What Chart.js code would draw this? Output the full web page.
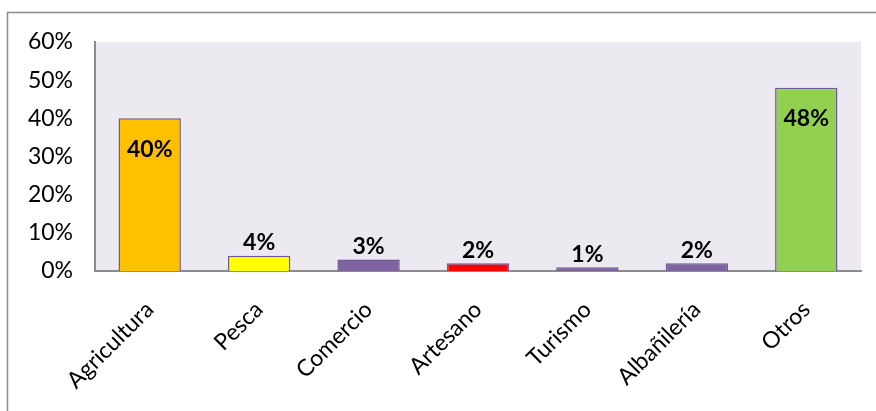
<!DOCTYPE html>
<html>
<head>
<meta charset="utf-8">
<script src="https://cdn.jsdelivr.net/npm/chart.js@4"></script>
<style>
  html, body { margin: 0; padding: 0; background: #fff; }
  #wrap { position: relative; width: 876px; height: 411px; }
</style>
</head>
<body>
<div id="wrap"><canvas id="sectorChart" width="876" height="411"></canvas></div>
<script>
// Categories and values (percent)
const sectors = ['Agricultura', 'Pesca', 'Comercio', 'Artesano', 'Turismo', 'Albañilería', 'Otros'];
const shares = [40, 4, 3, 2, 1, 2, 48];
const barColors = ['#FFC000', '#FFFF00', '#8064A2', '#FF0000', '#8064A2', '#8064A2', '#92D050'];
const yTicks = [0, 10, 20, 30, 40, 50, 60];

/* -----------------------------
   Frame, plot background, labels
------------------------------ */
const decorations = {
  id: 'decorations',
  beforeDraw(chart) {
    const { ctx, chartArea } = chart;
    ctx.save();
    ctx.fillStyle = '#fff';
    ctx.fillRect(0, 0, chart.width, chart.height);
    // outer frame
    ctx.strokeStyle = '#8c8c8c';
    ctx.lineWidth = 1.5;
    ctx.strokeRect(7.5, 12.5, chart.width + 20, chart.height + 20);
    // plot area
    ctx.fillStyle = '#ECEAF0';
    ctx.fillRect(chartArea.left, chartArea.top, chartArea.right - chartArea.left, chartArea.bottom - chartArea.top);
    ctx.restore();
  },
  afterDatasetsDraw(chart) {
    const { ctx } = chart;
    const meta = chart.getDatasetMeta(0);
    ctx.save();
    ctx.font = 'bold 23px Lato, "Open Sans", sans-serif';
    ctx.fillStyle = '#000';
    ctx.textAlign = 'center';
    ctx.textBaseline = 'middle';
    meta.data.forEach((bar, i) => {
      const v = shares[i];
      const y = v > 10 ? bar.y + 31 : bar.y - 13;
      ctx.fillText(v + '%', bar.x, y);
    });
    ctx.restore();
  }
};

const ctx = document.getElementById('sectorChart').getContext('2d');
new Chart(ctx, {
  type: 'bar',
  data: {
    labels: sectors,
    datasets: [{
      data: shares,
      backgroundColor: barColors,
      borderColor: '#6E5A96',
      borderWidth: 1.5,
      barPercentage: 0.57,
      categoryPercentage: 1.0
    }]
  },
  options: {
    responsive: false,
    animation: false,
    layout: { padding: { top: 42, right: 15, left: 0, bottom: 0 } },
    plugins: {
      legend: { display: false },
      tooltip: { enabled: false }
    },
    scales: {
      x: {
        grid: { display: false, drawTicks: false },
        border: { display: true, color: '#8c8c8c', width: 2 },
        ticks: {
          color: '#000',
          font: { family: 'Lato, "Open Sans", sans-serif', size: 23 },
          maxRotation: 45,
          minRotation: 45,
          padding: 25
        },
        afterFit(scale) { scale.height = 140; }
      },
      y: {
        min: 0,
        max: 60,
        afterBuildTicks(scale) { scale.ticks = yTicks.map(v => ({ value: v })); },
        grid: { display: false, drawTicks: false },
        border: { display: true, color: '#8c8c8c', width: 2 },
        ticks: {
          color: '#000',
          font: { family: 'Lato, "Open Sans", sans-serif', size: 23 },
          padding: 22,
          callback: v => v + '%'
        },
        afterFit(scale) { scale.width = 95; }
      }
    }
  },
  plugins: [decorations]
});
</script>
</body>
</html>
